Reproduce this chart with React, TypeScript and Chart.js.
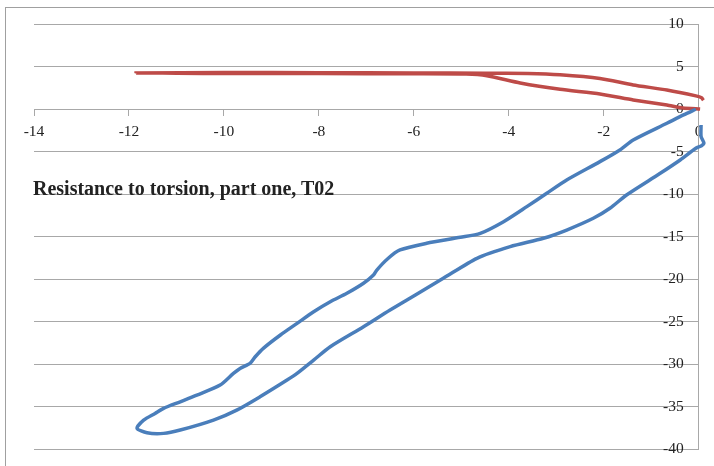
import React, { useEffect, useRef } from "react";
import { Chart, registerables } from "chart.js";

Chart.register(...registerables);

const TITLE = "Resistance to torsion, part one, T02";

const X_MIN = -14;
const X_MAX = 0;
const X_STEP = 2;
const Y_MIN = -40;
const Y_MAX = 10;
const Y_STEP = 5;

const redX = [0.03, -0.33, -0.67, -1.38, -2.08, -2.92, -3.76, -4.46, -4.9, -6, -8, -10, -11.85,
  -10, -8, -6, -4.5, -3.6, -2.92, -2.08, -1.38, -0.67, -0.06, 0.06, 0.1];
const redY = [0.02, 0.15, 0.5, 1.1, 1.8, 2.35, 3.1, 3.95, 4.15, 4.18, 4.2, 4.22, 4.28,
  4.32, 4.3, 4.28, 4.25, 4.2, 4.05, 3.62, 2.86, 2.27, 1.57, 1.35, 1.05];

const blueX = [-0.06, -0.32, -0.67, -1.38, -1.66, -2.08, -2.78, -3.2, -3.62, -4.11, -4.6, -5.02,
  -5.73, -6.29, -6.55, -6.78, -6.85, -7.06, -7.41, -7.76, -8.11, -8.46, -8.81, -9.17, -9.34,
  -9.45, -9.66, -9.8, -10.08, -10.57, -10.92, -11.27, -11.45, -11.69, -11.83, -11.62, -11.27,
  -10.92, -10.22, -9.73, -9.24, -8.67, -8.46, -8.11, -7.76, -7.06, -6.5, -5.38, -4.67, -3.97,
  -3.27, -2.78, -2.22, -1.87, -1.52, -0.81, -0.39, -0.06, 0.06, 0.11, 0.05, 0.05];
const blueY = [0, -0.67, -1.65, -3.62, -4.79, -6.17, -8.33, -9.89, -11.47, -13.24, -14.61, -15.08,
  -15.78, -16.57, -17.6, -18.93, -19.52, -20.49, -21.67, -22.66, -23.84, -25.21, -26.58, -28.15,
  -29.14, -29.92, -30.51, -31.1, -32.47, -33.65, -34.44, -35.22, -35.81, -36.6, -37.57, -38.09,
  -38.16, -37.77, -36.6, -35.42, -33.85, -31.88, -31.1, -29.53, -27.96, -25.61, -23.64, -19.91,
  -17.55, -16.18, -15.19, -14.22, -12.84, -11.66, -10.09, -7.54, -5.97, -4.6, -4.3, -4.0, -3.2, -1.85];

const toPoints = (xs: number[], ys: number[]) => xs.map((x, i) => ({ x, y: ys[i] }));

const FONT = "'Liberation Serif', 'Times New Roman', serif";
const GRID = "#a8a8a8";
const TEXT = "#222222";

export default function App() {
  const canvasRef = useRef<HTMLCanvasElement | null>(null);

  useEffect(() => {
    if (!canvasRef.current) return;
    const chart = new Chart(canvasRef.current, {
      type: "scatter",
      data: {
        datasets: [
          {
            label: "Series 1",
            data: toPoints(blueX, blueY),
            showLine: true,
            borderColor: "#4A7EBB",
            backgroundColor: "#4A7EBB",
            borderWidth: 3.5,
            pointRadius: 0,
            tension: 0.25,
            clip: false,
          } as any,
          {
            label: "Series 2",
            data: toPoints(redX, redY),
            showLine: true,
            borderColor: "#BE4B48",
            backgroundColor: "#BE4B48",
            borderWidth: 3.5,
            pointRadius: 0,
            tension: 0.2,
            clip: false,
          } as any,
        ],
      },
      options: {
        animation: false,
        responsive: false,
        maintainAspectRatio: false,
        layout: { padding: { left: 34, right: 15.3, top: 24.3, bottom: 17 } },
        plugins: { legend: { display: false }, tooltip: { enabled: false } },
        scales: {
          x: {
            type: "linear",
            position: { y: 0 } as any,
            min: X_MIN,
            max: X_MAX,
            afterFit: (s: any) => { s.height = 0; },
            ticks: {
              stepSize: X_STEP,
              color: TEXT,
              font: { family: FONT, size: 15.5 },
              padding: 7,
              maxRotation: 0,
            },
            grid: { drawOnChartArea: false, drawTicks: true, tickLength: 6, color: GRID },
            border: { display: true, color: GRID, width: 1 },
          },
          y: {
            type: "linear",
            position: "right",
            min: Y_MIN,
            max: Y_MAX,
            afterFit: (s: any) => { s.width = 0; },
            ticks: {
              stepSize: Y_STEP,
              color: TEXT,
              font: { family: FONT, size: 15.5 },
              mirror: true,
              padding: -15,
            },
            grid: { drawOnChartArea: true, drawTicks: false, color: GRID },
            border: { display: true, color: GRID, width: 1 },
          },
        },
      },
    });
    return () => chart.destroy();
  }, []);

  return (
    <div style={{ position: "fixed", left: 0, top: 0, width: 714, height: 466, background: "#fff", overflow: "hidden" }}>
      <div style={{ position: "absolute", left: 5, top: 7, width: 800, height: 600, border: "1px solid #a0a0a0", boxSizing: "border-box" }} />
      <canvas ref={canvasRef} width={714} height={466} style={{ position: "absolute", left: 0, top: 0, width: 714, height: 466 }} />
      <div style={{ position: "absolute", left: 33, top: 176, fontFamily: FONT, fontWeight: "bold", fontSize: 20, color: TEXT, whiteSpace: "nowrap", lineHeight: "24px" }}>
        {TITLE}
      </div>
    </div>
  );
}
